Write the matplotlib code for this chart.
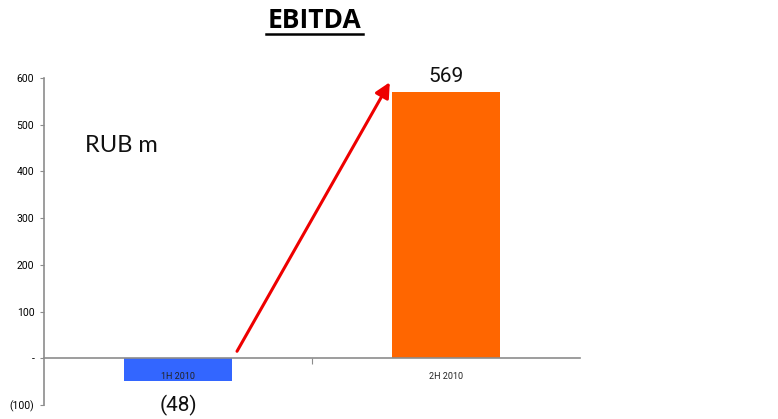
import matplotlib
matplotlib.use("Agg")
import matplotlib.pyplot as plt

periods = ["1H 2010", "2H 2010"]
ebitda = [-48, 569]
bar_colors = ["#3366FF", "#FF6600"]
yticks = [-100, 0, 100, 200, 300, 400, 500, 600]
ytick_labels = ["(100)", "-", "100", "200", "300", "400", "500", "600"]

def fmt(v):
    return f"({abs(v)})" if v < 0 else f"{v}"

narrow = ["Liberation Sans Narrow", "Roboto", "DejaVu Sans"]

fig = plt.figure(figsize=(7.78, 4.19), dpi=100)
ax = fig.add_axes([0.0566, 0.0334, 0.689, 0.7804])

x = range(len(periods))
ax.bar(x, ebitda, width=0.4, color=bar_colors, zorder=2)
ax.set_xlim(-0.5, 1.5)
ax.set_ylim(-100, 600)

for spine in ["top", "right"]:
    ax.spines[spine].set_visible(False)
ax.spines["bottom"].set_position(("data", 0))
for spine in ["left", "bottom"]:
    ax.spines[spine].set_color("#8c8c8c")
    ax.spines[spine].set_linewidth(1.2)
ax.spines["bottom"].set_zorder(3)

ax.set_yticks(yticks)
ax.set_yticklabels(ytick_labels, family=narrow, fontsize=7.5)
ax.tick_params(axis="y", length=3, color="#8c8c8c", pad=4)

# category labels sit just under the zero line, category divider tick in between
ax.set_xticks([0.5])
ax.set_xticklabels([""])
ax.tick_params(axis="x", length=4, color="#8c8c8c", direction="out")
for i, p in enumerate(periods):
    ax.text(i, -38, p, ha="center", va="center", fontsize=6.5, family=narrow,
            color="#222222", zorder=4)

for i, v in enumerate(ebitda):
    y = v + 14 if v > 0 else -100
    ax.text(i, y, fmt(v), ha="center", va="bottom" if v > 0 else "center",
            fontsize=15, family=narrow, color="#111111")

ax.annotate("", xy=(0.79, 591), xytext=(0.22, 15),
            arrowprops=dict(arrowstyle="-|>,head_length=0.9,head_width=0.45",
                            color="#EE0000", lw=2.2, shrinkA=0, shrinkB=0),
            zorder=5)

ax.text(-0.213, 455, "RUB m", fontsize=17, family=["Lato", "DejaVu Sans"],
        ha="center", va="center", color="#111111")

fig.text(0.404, 0.952, "EBITDA", fontsize=19, fontweight="bold",
         family=["Open Sans", "DejaVu Sans"], ha="center", va="center")
fig.add_artist(plt.Line2D([0.342, 0.467], [0.918, 0.918], color="black", lw=1.8))

fig.savefig("out.png", dpi=100, facecolor="white")
